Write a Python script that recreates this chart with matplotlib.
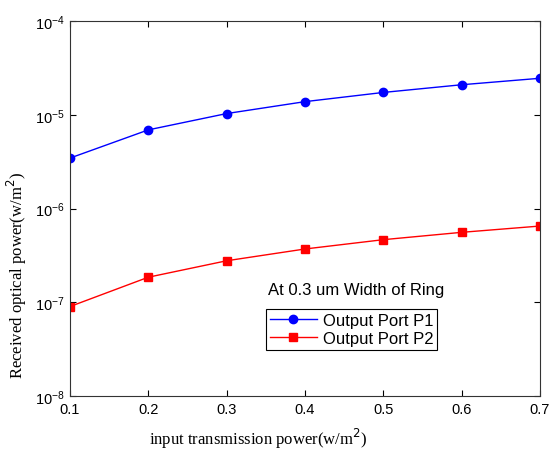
import numpy as np
import matplotlib
matplotlib.use("Agg")
import matplotlib.pyplot as plt
from matplotlib.ticker import LogLocator, NullLocator

# input power (w/m^2) and received power at the two output ports
input_power = [0.1, 0.2, 0.3, 0.4, 0.5, 0.6, 0.7]
port_p1 = [3.45e-6, 6.9e-6, 1.03e-5, 1.38e-5, 1.73e-5, 2.09e-5, 2.45e-5]
port_p2 = [9.0e-8, 1.85e-7, 2.77e-7, 3.7e-7, 4.65e-7, 5.57e-7, 6.5e-7]
x_ticks = [0.1, 0.2, 0.3, 0.4, 0.5, 0.6, 0.7]

sans = ["Liberation Sans", "DejaVu Sans"]
serif = ["Liberation Serif", "DejaVu Serif"]

fig = plt.figure(figsize=(5.49, 4.52), dpi=100)
ax = fig.add_axes([0.1275, 0.1217, 0.8561, 0.8296])

ax.plot(input_power, port_p1, color="#0000ff", lw=1, marker="o", ms=6,
        label="Output Port P1")
ax.plot(input_power, port_p2, color="#ff0000", lw=1, marker="s", ms=6,
        label="Output Port P2")

ax.set_yscale("log")
ax.set_xlim(0.1, 0.7)
ax.set_ylim(1e-8, 1e-4)
ax.set_xticks(x_ticks)
ax.set_xticklabels([f"{v:.1f}" for v in x_ticks])
ax.yaxis.set_major_locator(LogLocator(base=10, numticks=10))
ax.yaxis.set_minor_locator(NullLocator())

ax.tick_params(direction="in", top=True, right=True, length=4, width=0.8,
               labelsize=10.5, pad=4)
for lab in ax.get_xticklabels() + ax.get_yticklabels():
    lab.set_family(sans)
for s in ax.spines.values():
    s.set_linewidth(0.8)
    s.set_color("#333333")

ax.set_xlabel("input transmission power(w/m$^2$)", family=serif, fontsize=12,
              va="center")
ax.xaxis.set_label_coords(0.40, -0.112)
ax.set_ylabel("Received optical power(w/m$^2$)", family=serif, fontsize=12,
              va="center")
ax.yaxis.set_label_coords(-0.113, 0.325)

leg = ax.legend(loc="lower left", bbox_to_anchor=(0.417, 0.123),
                prop={"family": sans, "size": 12}, fancybox=False,
                framealpha=1, edgecolor="black", borderpad=0.25,
                handlelength=2.8, handletextpad=0.35, labelspacing=0.15,
                borderaxespad=0)
leg.get_frame().set_linewidth(0.8)
ax.text(0.422, 0.285, "At 0.3 um Width of Ring", transform=ax.transAxes,
        family=sans, fontsize=12, va="center", ha="left")

fig.savefig("out.png", dpi=100)
